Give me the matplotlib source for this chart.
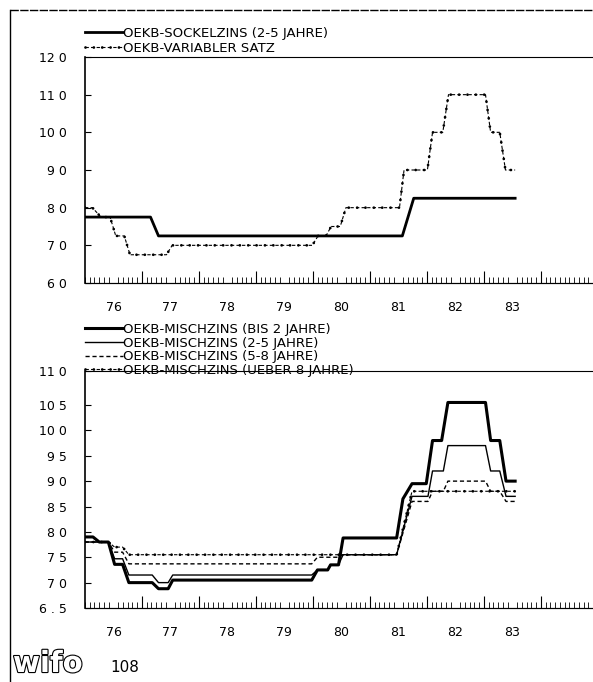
import numpy as np
import matplotlib
matplotlib.use('Agg')
import matplotlib.pyplot as plt
from matplotlib.lines import Line2D
import matplotlib.patheffects as pe

plt.rcParams['font.family'] = ['DejaVu Sans']

# --- data (decimal years, percent) ---
years = [76, 77, 78, 79, 80, 81, 82, 83]

sockel_t = [1976.00, 1977.15, 1977.29, 1981.57, 1981.77, 1983.55]
sockel_v = [7.75, 7.75, 7.25, 7.25, 8.25, 8.25]

variabel_t = [1976.00, 1976.13, 1976.28, 1976.44, 1976.54, 1976.69, 1976.79, 1977.43,
              1977.53, 1979.99, 1980.09, 1980.23, 1980.32, 1980.48, 1980.58, 1981.52,
              1981.60, 1982.01, 1982.10, 1982.28, 1982.38, 1983.03, 1983.12, 1983.28,
              1983.38, 1983.55]
variabel_v = [8.0, 8.0, 7.75, 7.75, 7.25, 7.25, 6.75, 6.75,
              7.0, 7.0, 7.25, 7.25, 7.5, 7.5, 8.0, 8.0,
              9.0, 9.0, 10.0, 10.0, 11.0, 11.0, 10.0, 10.0,
              9.0, 9.0]

bis2_t = [1976.00, 1976.14, 1976.25, 1976.41, 1976.52, 1976.66, 1976.77, 1977.18,
          1977.29, 1977.46, 1977.54, 1979.98, 1980.08, 1980.26, 1980.31, 1980.45,
          1980.53, 1981.47, 1981.58, 1981.74, 1981.99, 1982.10, 1982.26, 1982.37,
          1983.03, 1983.12, 1983.28, 1983.39, 1983.55]
bis2_v = [7.9, 7.9, 7.8, 7.8, 7.36, 7.36, 7.0, 7.0,
          6.88, 6.88, 7.05, 7.05, 7.25, 7.25, 7.35, 7.35,
          7.88, 7.88, 8.65, 8.95, 8.95, 9.8, 9.8, 10.55,
          10.55, 9.8, 9.8, 9.0, 9.0]

m25_t = [1976.00, 1976.41, 1976.52, 1976.66, 1976.77, 1977.18, 1977.29, 1977.46,
         1977.54, 1979.98, 1980.08, 1980.26, 1980.31, 1980.45, 1980.53, 1981.47,
         1981.74, 1982.02, 1982.10, 1982.29, 1982.37, 1983.03, 1983.12, 1983.28,
         1983.39, 1983.55]
m25_v = [7.8, 7.8, 7.47, 7.47, 7.15, 7.15, 7.0, 7.0,
         7.15, 7.15, 7.25, 7.25, 7.35, 7.35, 7.55, 7.55,
         8.7, 8.7, 9.2, 9.2, 9.7, 9.7, 9.2, 9.2,
         8.7, 8.7]

m58_t = [1976.00, 1976.41, 1976.52, 1976.66, 1976.77, 1979.98, 1980.08, 1980.45,
         1980.53, 1981.47, 1981.74, 1982.02, 1982.10, 1982.29, 1982.37, 1983.03,
         1983.12, 1983.28, 1983.39, 1983.55]
m58_v = [7.8, 7.8, 7.6, 7.6, 7.37, 7.37, 7.5, 7.5,
         7.55, 7.55, 8.6, 8.6, 8.8, 8.8, 9.0, 9.0,
         8.8, 8.8, 8.6, 8.6]

ue8_t = [1976.00, 1976.41, 1976.52, 1976.66, 1976.77, 1981.47, 1981.74, 1983.55]
ue8_v = [7.8, 7.8, 7.7, 7.7, 7.55, 7.55, 8.8, 8.8]

top_yticks = [6, 7, 8, 9, 10, 11, 12]
top_ylabels = ['6 0', '7 0', '8 0', '9 0', '10 0', '11 0', '12 0']
bot_yticks = [6.5, 7.0, 7.5, 8.0, 8.5, 9.0, 9.5, 10.0, 10.5, 11.17]
bot_ylabels = ['6 . 5', '7 0', '7 5', '8 0', '8 5', '9 0', '9 5', '10 0', '10 5', '11 0']

W, H = 593, 682
fig = plt.figure(figsize=(W / 100, H / 100), dpi=100)
ax1 = fig.add_axes([85 / W, (H - 283) / H, 508 / W, 226 / H])
ax2 = fig.add_axes([85 / W, (H - 608) / H, 508 / W, 237 / H])


def beaded(ax, t, v):
    # thin dashed line with small beads on it
    a, = ax.plot(t, v, color='black', lw=0.8, linestyle=(0, (3, 2)))
    b, = ax.plot(t, v, color='black', lw=2.0, linestyle=(0, (0.01, 3.0)),
                 dash_capstyle='round')
    return (a, b)


def style_axis(ax):
    ax.set_xlim(1976, 1976 + 508 / 60.7)
    ax.set_xticks([1900 + y + 0.5 for y in years], [str(y) for y in years])
    ax.tick_params(axis='x', which='major', length=0, pad=13, labelsize=9)
    ax.set_xticks(np.arange(1976, 1985, 1 / 12), minor=True)
    ax.tick_params(axis='x', which='minor', direction='in', length=4, width=0.6)
    sec = ax.secondary_xaxis('bottom')
    sec.set_xticks([1900 + y for y in years[1:]] + [1984])
    sec.set_xticklabels([])
    sec.tick_params(direction='in', length=9, width=0.8)
    ax.tick_params(axis='y', direction='in', length=4, width=0.8, pad=13, labelsize=9)
    ax.spines['right'].set_visible(False)
    ax.spines['top'].set_linestyle((0, (1, 1)))
    ax.spines['top'].set_linewidth(0.8)
    ax.spines['left'].set_linewidth(1.2)


# top panel
l1, = ax1.plot(sockel_t, sockel_v, color='black', lw=2.0)
l2 = beaded(ax1, variabel_t, variabel_v)
ax1.set_ylim(6, 12)
ax1.set_yticks(top_yticks, top_ylabels)
style_axis(ax1)
ax1.legend([l1, l2], ['OEKB-SOCKELZINS (2-5 JAHRE)', 'OEKB-VARIABLER SATZ'],
           loc='lower left', bbox_to_anchor=(0, 1.01), frameon=False,
           borderpad=0, borderaxespad=0, handlelength=2.9, handletextpad=0,
           labelspacing=0.15, fontsize=9.5)

# bottom panel
b1, = ax2.plot(bis2_t, bis2_v, color='black', lw=2.2)
b2, = ax2.plot(m25_t, m25_v, color='black', lw=1.0)
b3, = ax2.plot(m58_t, m58_v, color='black', lw=1.0, linestyle=(0, (3, 2)))
b4 = beaded(ax2, ue8_t, ue8_v)
ax2.set_ylim(6.5, 11.17)
ax2.set_yticks(bot_yticks, bot_ylabels)
style_axis(ax2)
ax2.legend([b1, b2, b3, b4],
           ['OEKB-MISCHZINS (BIS 2 JAHRE)', 'OEKB-MISCHZINS (2-5 JAHRE)',
            'OEKB-MISCHZINS (5-8 JAHRE)', 'OEKB-MISCHZINS (UEBER 8 JAHRE)'],
           loc='lower left', bbox_to_anchor=(0, 0.975), frameon=False,
           borderpad=0, borderaxespad=0, handlelength=2.9, handletextpad=0,
           labelspacing=0.05, fontsize=9.5)

# page border
fig.add_artist(Line2D([10 / W, 10 / W], [0, 1 - 10 / H], transform=fig.transFigure,
                      color='black', lw=1.0))
fig.add_artist(Line2D([10 / W, 1], [1 - 10 / H, 1 - 10 / H], transform=fig.transFigure,
                      color='black', lw=1.0, linestyle=(0, (6, 1))))

# logo and page number
fig.text(13 / W, 1 - 664 / H, 'wifo', fontsize=21, fontweight='bold', color='white',
         va='center', ha='left',
         path_effects=[pe.Stroke(linewidth=1.6, foreground='black'), pe.Normal()])
fig.text(110 / W, 1 - 668 / H, '108', fontsize=11, va='center', ha='left')

fig.savefig('out.png', dpi=100)
